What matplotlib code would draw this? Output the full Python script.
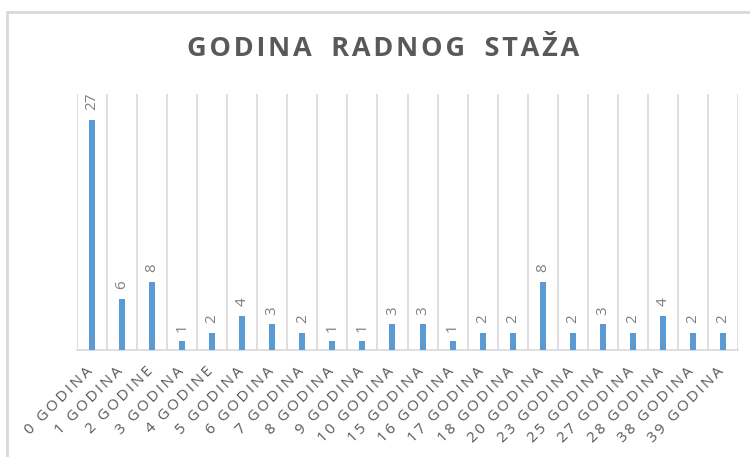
import matplotlib.pyplot as plt
from matplotlib.patches import Rectangle
from matplotlib.transforms import ScaledTranslation

kategorije = ['0 GODINA', '1 GODINA', '2 GODINE', '3 GODINA', '4 GODINE', '5 GODINA',
              '6 GODINA', '7 GODINA', '8 GODINA', '9 GODINA', '10 GODINA', '15 GODINA',
              '16 GODINA', '17 GODINA', '18 GODINA', '20 GODINA', '23 GODINA', '25 GODINA',
              '27 GODINA', '28 GODINA', '38 GODINA', '39 GODINA']
broj = [27, 6, 8, 1, 2, 4, 3, 2, 1, 1, 3, 3, 1, 2, 2, 8, 2, 3, 2, 4, 2, 2]
naslov = 'GODINA RADNOG STAŽA'

plt.rcParams['font.family'] = ['Open Sans', 'DejaVu Sans']

TS = '\u2009'  # uski razmak
HS = '\u200a'  # vrlo uski razmak


def razmakni(s, slova, medju):
    return medju.join(slova.join(r) for r in s.split(' '))


fig = plt.figure(figsize=(7.5, 4.57), dpi=100)
ax = fig.add_axes([77/750, 1-350/457, (738-77)/750, (350-94)/457])

# okvir grafikona
fig.patches.append(Rectangle((7/750, -0.2), 1.2, 1.2 - 12/457, transform=fig.transFigure,
                             fill=False, edgecolor='#d9d9d9', linewidth=2))

x = list(range(len(kategorije)))
ax.bar(x, broj, width=0.2, color='#5b9bd5', zorder=3)

for i, v in zip(x, broj):
    ax.annotate(str(v), (i, v), xytext=(0, 7), textcoords='offset points',
                rotation=90, ha='center', va='bottom', fontsize=11, color='#808080')

for g in range(len(kategorije) + 1):
    ax.axvline(g - 0.5, color='#d9d9d9', linewidth=1.2, zorder=1)

ax.set_xlim(-0.5, len(kategorije) - 0.5)
ax.set_ylim(0, 30)
ax.set_yticks([])
ax.set_xticks(x)
ax.set_xticklabels([razmakni(k, TS, TS + ' ' + TS) for k in kategorije], rotation=45,
                   ha='right', va='top', rotation_mode='anchor', fontsize=11, color='#595959')
ax.tick_params(axis='x', length=0, pad=10)
pomak = ScaledTranslation(-4.5/72, 0, fig.dpi_scale_trans)
for lab in ax.get_xticklabels():
    lab.set_transform(lab.get_transform() + pomak)
for s in ['top', 'left', 'right']:
    ax.spines[s].set_visible(False)
ax.spines['bottom'].set_color('#d9d9d9')
ax.spines['bottom'].set_linewidth(1.2)

fig.text(383/750, 1-49/457, razmakni(naslov, HS, HS + '  ' + HS), ha='center', va='center',
         fontsize=19.5, fontweight='bold', color='#595959')

fig.savefig('out.png', dpi=100)
